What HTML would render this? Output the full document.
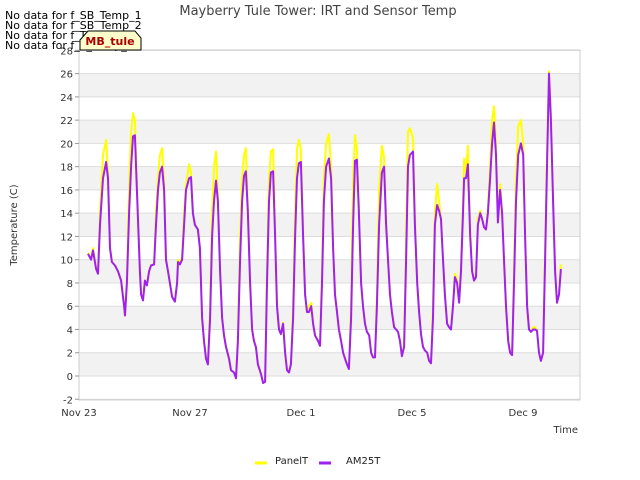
<!DOCTYPE html>
<html><head><meta charset="utf-8"><style>
body{margin:0;background:#fff;}
svg{display:block;font-family:"DejaVu Sans","Liberation Sans",sans-serif;}
</style></head><body>
<svg id="chart" width="640" height="480">
<rect x="0" y="0" width="640" height="480" fill="#fff"/>
<g id="bands"></g>
<g id="grid"></g>
<rect x="79" y="50" width="501" height="350" fill="none" stroke="#ccc"/>
<g id="yticks"></g>
<g id="xticks"></g>
<g id="series"></g>
<text x="318" y="15" text-anchor="middle" font-size="13" fill="#444">Mayberry Tule Tower: IRT and Sensor Temp</text>
<text x="17" y="225" text-anchor="middle" font-size="10" fill="#333" transform="rotate(-90 17 225)">Temperature (C)</text>
<text x="578" y="433" text-anchor="end" font-size="10" fill="#333">Time</text>
<g font-size="11" fill="#000">
<text x="5" y="19">No data for f_SB_Temp_1</text>
<text x="5" y="29">No data for f_SB_Temp_2</text>
<text x="5" y="39">No data for f_T_Temp_1</text>
<text x="5" y="49">No data for f_T_Temp_2</text>
</g>
<g>
<path d="M80,50 L80,40 L88,31 L135,31 L141,38 L141,50 Z" fill="#ffffcc" stroke="#000" stroke-width="1"/>
<text x="110" y="45" text-anchor="middle" font-size="11" font-weight="bold" fill="#aa0000">MB_tule</text>
</g>
<g>
<line x1="255" y1="463" x2="267" y2="463" stroke="#ffff00" stroke-width="3"/>
<text x="275" y="464" font-size="10" fill="#222">PanelT</text>
<line x1="319" y1="463" x2="331" y2="463" stroke="#a020f0" stroke-width="3"/>
<text x="346" y="464" font-size="10" fill="#222">AM25T</text>
</g>
</svg>
<script>
const yTicks=[-2,0,2,4,6,8,10,12,14,16,18,20,22,24,26,28];
const xTickDays=[0,4,8,12,16];
const xTickLabels=["Nov 23","Nov 27","Dec 1","Dec 5","Dec 9"];
const times=[0.29,0.40,0.47,0.58,0.65,0.72,0.83,0.94,1.01,1.08,1.15,1.26,1.37,1.48,1.59,1.62,1.69,1.77,1.84,1.91,1.98,2.05,2.16,2.20,2.27,2.34,2.41,2.49,2.56,2.67,2.74,2.81,2.88,2.96,3.03,3.10,3.17,3.24,3.32,3.42,3.50,3.53,3.60,3.68,3.75,3.82,3.93,4.00,4.07,4.14,4.25,4.32,4.40,4.47,4.54,4.61,4.69,4.76,4.83,4.90,4.97,5.05,5.12,5.19,5.26,5.37,5.44,5.55,5.62,5.69,5.77,5.84,5.91,5.98,6.05,6.13,6.20,6.27,6.34,6.41,6.52,6.60,6.67,6.74,6.81,6.88,6.96,7.03,7.10,7.17,7.24,7.32,7.39,7.46,7.53,7.60,7.68,7.75,7.82,7.89,7.96,8.04,8.11,8.18,8.25,8.33,8.40,8.47,8.58,8.65,8.72,8.79,8.87,8.97,9.05,9.12,9.19,9.26,9.33,9.41,9.48,9.55,9.62,9.69,9.77,9.84,9.91,9.98,10.05,10.13,10.20,10.27,10.34,10.42,10.49,10.56,10.63,10.70,10.78,10.88,10.96,11.03,11.10,11.17,11.24,11.32,11.39,11.46,11.53,11.60,11.68,11.75,11.82,11.89,12.00,12.07,12.15,12.22,12.29,12.36,12.43,12.51,12.58,12.65,12.72,12.79,12.87,12.94,13.01,13.08,13.15,13.23,13.30,13.37,13.44,13.51,13.59,13.66,13.73,13.80,13.84,13.91,13.98,14.06,14.13,14.20,14.27,14.34,14.42,14.49,14.56,14.63,14.70,14.78,14.85,14.92,14.99,15.06,15.14,15.21,15.28,15.35,15.43,15.50,15.57,15.64,15.71,15.79,15.89,15.97,16.04,16.11,16.18,16.25,16.33,16.40,16.47,16.54,16.61,16.69,16.76,16.83,16.90,16.97,17.05,17.12,17.19,17.26,17.33];
const am25t=[10.5,10,10.8,9.2,8.8,13,17,18.4,17,11,9.8,9.5,9,8.2,6,5.2,8,14,18,20.6,20.7,16,9,7,6.5,8.2,7.8,9,9.5,9.6,13,16,17.5,18,16,10,9,8,6.8,6.4,8,9.8,9.6,10,13,16,17,17.1,14,13,12.6,11,5,3,1.5,1,5,12,15,16.8,15,9,5,3.5,2.5,1.5,0.5,0.3,-0.2,3,10,15,17.2,17.6,14,8,4,3,2.5,1,0.2,-0.6,-0.5,8,15,17.5,17.6,12,6,4,3.6,4.5,2,0.5,0.3,1,5,12,17,18.3,18.4,12,7,5.5,5.5,6,4.5,3.5,3,2.6,8,15,18,18.7,17,11,7,5.5,4,3,2,1.5,1,0.6,5,13,18.5,18.6,14,8,6,4.5,3.8,3.5,2,1.6,1.6,6,13,17.5,18,13,10,7,5.5,4.2,4,3.8,3,1.7,2.5,10,18,19,19.3,13,8,5.5,3.6,2.5,2.2,2,1.3,1.1,5,13,14.7,14.2,13.5,10,7,4.5,4.2,4,6,8.5,8,6.3,9,14,17,17,18.2,12,9,8.2,8.5,13,14,13.5,12.8,12.6,14,17,20,21.8,19,13.2,16,14,10,6,3,2,1.8,8,15,19,20,19,12,6,4,3.8,4,4,3.9,2,1.3,2,10,18,26,22,15,9,6.3,7,9.2];
const panelT=[10.6,10.1,11,9.3,8.9,14,19,20.3,17.5,11,9.8,9.5,9,8.2,6,5.2,8.5,16,21,22.6,22,16.5,9,7,6.5,8.2,7.8,9,9.5,9.7,14,17,19,19.6,16.5,10,9,8,6.8,6.4,8,10,9.7,10.2,14,16.5,18.2,17.5,14,13,12.6,11,5,3,1.5,1,6,14,18,19.3,15.5,9,5,3.5,2.5,1.5,0.5,0.3,-0.2,3.5,12,17,19,19.6,14.5,8,4,3,2.5,1,0.2,-0.6,-0.5,9,17,19.3,19.5,12.5,6,4,3.6,4.6,2,0.5,0.3,1,6,14,19.5,20.3,19.5,12.5,7,5.5,6,6.3,4.5,3.5,3,2.6,9,17,20,20.8,18,11,7,5.5,4,3,2,1.5,1,0.6,6,17,20.7,19.5,14.5,8,6,4.5,3.8,3.5,2,1.6,1.6,7,16,19.8,18.8,13.5,10,7,5.5,4.3,4,3.8,3,1.7,2.5,12,21,21.3,20.5,13.5,8,5.5,3.6,2.5,2.2,2,1.3,1.1,6,14,16.5,15,13.5,10,7,4.5,4.2,4,6.2,8.8,8.3,6.3,9.5,15,18.7,17.5,19.8,12.5,9,8.3,8.7,13.5,14.2,13.5,12.8,12.6,14.5,18,22,23.2,20,13.5,16.5,14.2,10,6,3,2,1.8,9,17,21.5,22,20,12,6,4,3.8,4.2,4.2,3.9,2,1.3,2,11,19,26.2,22.5,15,9,6.3,7,9.6];

const NS='http://www.w3.org/2000/svg';
const X0=79,X1=580,Y0=50,Y1=400;
function xs(d){return X0+1+d*27.75;}
function ys(v){return 376-v*11.63;}
function mk(tag,attrs,parent){const e=document.createElementNS(NS,tag);for(const k in attrs)e.setAttribute(k,attrs[k]);parent.appendChild(e);return e;}
const bands=document.getElementById('bands'),grid=document.getElementById('grid'),yt=document.getElementById('yticks'),xt=document.getElementById('xticks'),ser=document.getElementById('series');
yTicks.forEach((v,i)=>{
  if(i<yTicks.length-1 && (v%4===0) && v>=0 && v<28){
    const b=mk('rect',{x:X0,y:ys(v+2),width:X1-X0,height:ys(v)-ys(v+2),fill:'#f2f2f2'},bands);
    
    
  }
  const l=mk('line',{x1:X0,x2:X1,y1:ys(v),y2:ys(v),stroke:'#dddddd','stroke-width':1},grid);
  
  
  const tk=mk('line',{x1:X0-4,x2:X0,y1:ys(v),y2:ys(v),stroke:'#999'},yt);
  
  
  const t=mk('text',{x:X0-6,y:ys(v)+4,'text-anchor':'end','font-size':10,fill:'#333'},yt);
  t.textContent=v;
  
  
});
xTickDays.forEach((d,i)=>{
  const t=mk('text',{x:xs(d)-1,y:416,'text-anchor':'middle','font-size':10,fill:'#333'},xt);
  t.textContent=xTickLabels[i];
  
  
});
function line(vals,color,name){
  const p=mk('polyline',{points:times.map((d,i)=>xs(d).toFixed(1)+','+ys(vals[i]).toFixed(1)).join(' '),fill:'none',stroke:color,'stroke-width':2,'stroke-linejoin':'round'},ser);
  
  
}
line(panelT,'#ffff00','panelt-line');
line(am25t,'#a020f0','am25t-line');
</script>
</body></html>
